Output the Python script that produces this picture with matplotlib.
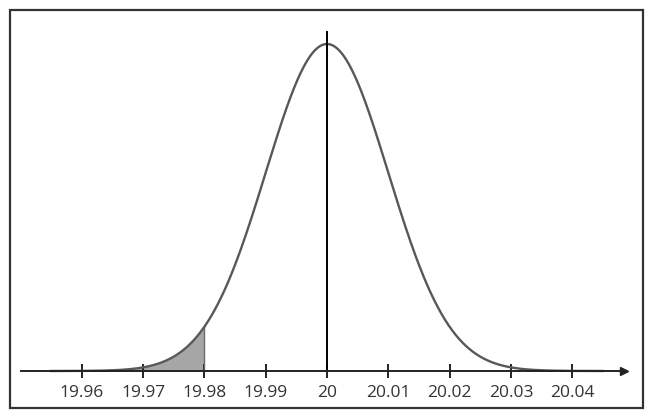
import numpy as np
import matplotlib
matplotlib.use("Agg")
import matplotlib.pyplot as plt
from matplotlib.patches import Rectangle

mean = 20.0
sd = 0.01
shade_upper = 19.98
tick_values = [19.96, 19.97, 19.98, 19.99, 20.00, 20.01, 20.02, 20.03, 20.04]
tick_labels = ["19.96", "19.97", "19.98", "19.99", "20", "20.01", "20.02", "20.03", "20.04"]

plt.rcParams['font.family'] = ['Open Sans', 'DejaVu Sans']

fig = plt.figure(figsize=(6.5, 4.2), dpi=100)
ax = fig.add_axes([0, 0, 1, 1])

px_per_unit = 6130.0
x0_px = 327.0
ax.set_xlim(mean - x0_px / px_per_unit, mean + (650 - x0_px) / px_per_unit)
peak_px = 327.0
base_px = 49.0
ax.set_ylim(-base_px / peak_px, (420 - base_px) / peak_px)

x = np.linspace(19.955, 20.045, 800)
y = np.exp(-0.5 * ((x - mean) / sd) ** 2)

xs = x[x <= shade_upper]
ys = np.exp(-0.5 * ((xs - mean) / sd) ** 2)
ax.fill_between(xs, 0, ys, color="#a6a6a6", lw=0)
ax.plot([shade_upper, shade_upper], [0, np.exp(-0.5 * ((shade_upper - mean) / sd) ** 2)],
        color="#6a6a6a", lw=1)

ax.plot(x, y, color="#585858", lw=1.7)
ax.plot([mean, mean], [0, 339 / peak_px], color="black", lw=1.4)

# x axis
for s in ["top", "left", "right"]:
    ax.spines[s].set_visible(False)
ax.spines["bottom"].set_position(("data", 0))
ax.spines["bottom"].set_bounds(19.95, 20.048)
ax.spines["bottom"].set_linewidth(1.4)
ax.spines["bottom"].set_color("#222222")
ax.plot([20.0485], [0], marker=">", color="#222222", markersize=6, clip_on=False)
ax.set_xticks(tick_values)
ax.set_xticklabels(tick_labels, fontsize=12.5, color="#333333")
ax.tick_params(axis="x", direction="inout", length=10, width=1.4, color="#222222", pad=5)
ax.set_yticks([])
ax.patch.set_alpha(0)

fig.patches.append(Rectangle((10 / 650, (420 - 408) / 420), 633 / 650, 398 / 420,
                             transform=fig.transFigure, fill=False,
                             edgecolor="#333333", lw=1.6))

fig.savefig("out.png", dpi=100)
